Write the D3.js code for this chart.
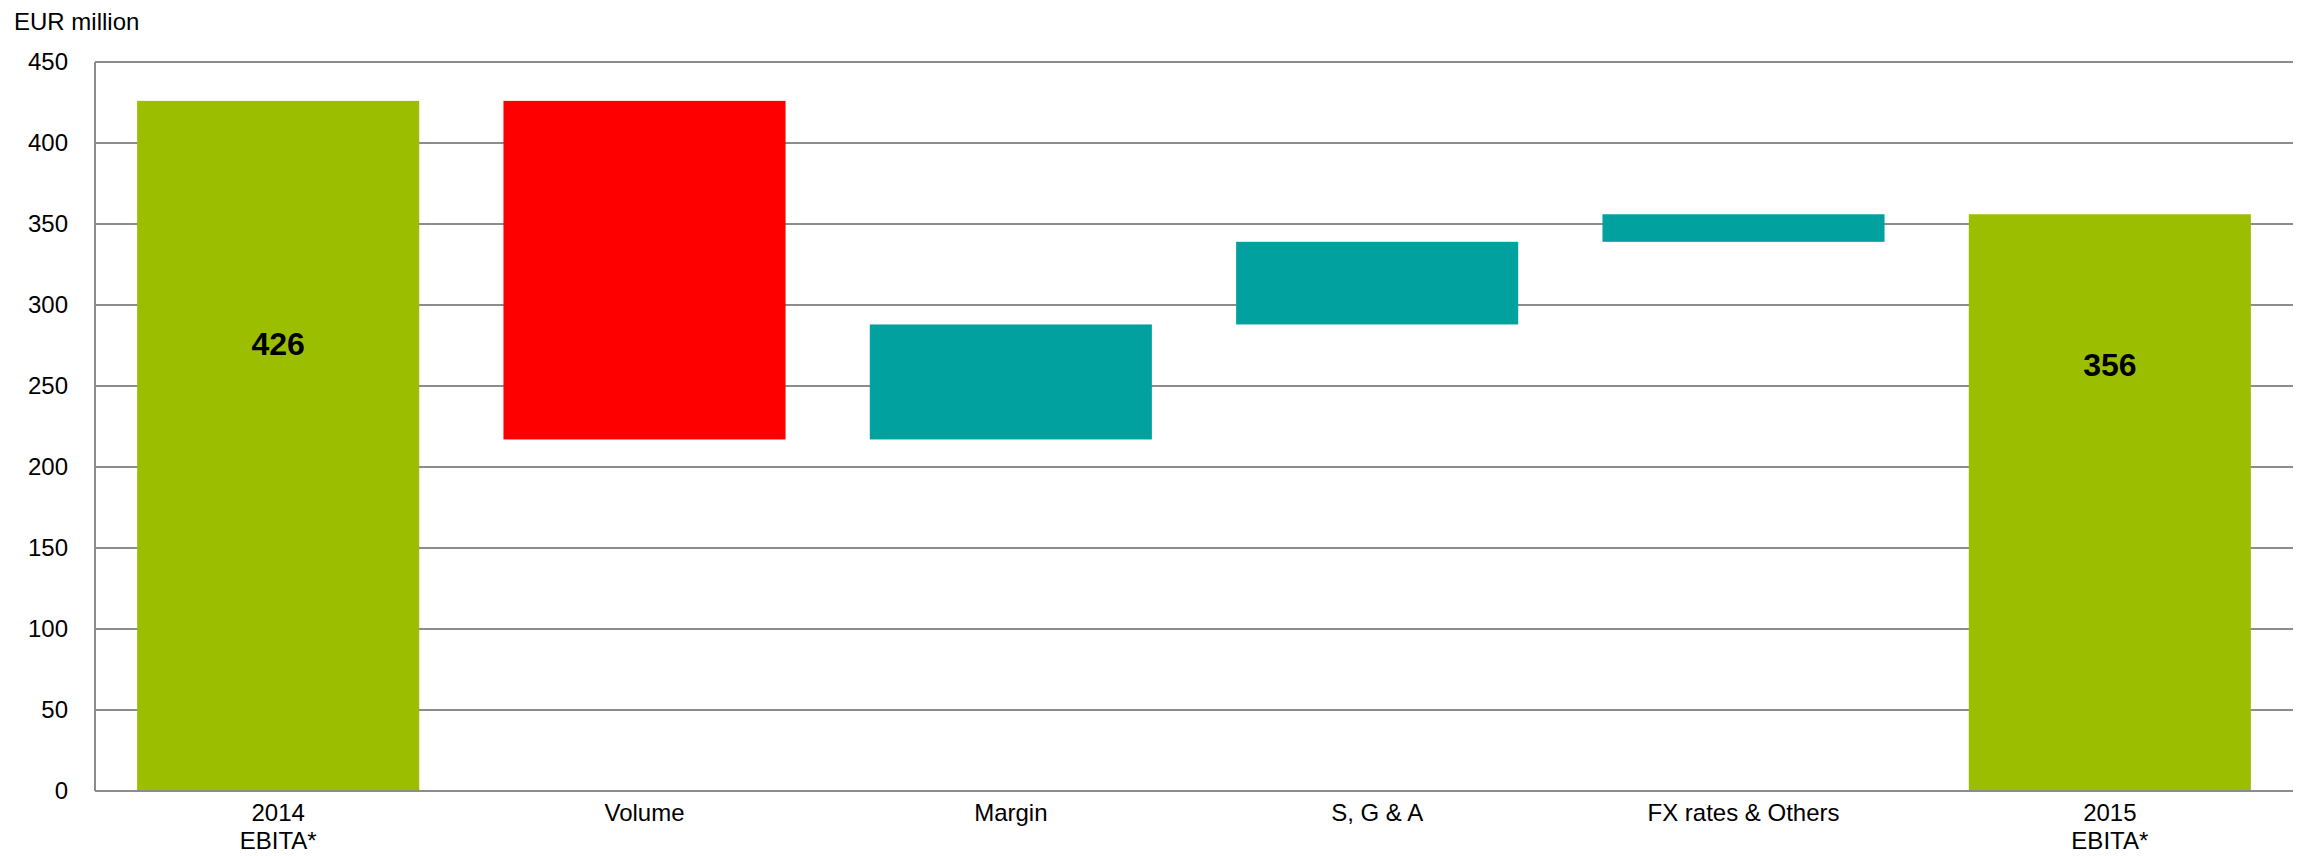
<!DOCTYPE html>
<html>
<head>
<meta charset="utf-8">
<script src="https://cdn.jsdelivr.net/npm/d3@7"></script>
<style>
  html, body { margin: 0; padding: 0; background: #fff; }
  svg { display: block; font-family: "Liberation Sans", Arial, sans-serif; }
</style>
</head>
<body>
<svg id="chart"></svg>
<script>
// Data: EBITA bridge 2014 -> 2015 (EUR million)
const categories = ['2014|EBITA*', 'Volume', 'Margin', 'S, G & A', 'FX rates & Others', '2015|EBITA*'];
const kinds = ['total', 'delta', 'delta', 'delta', 'delta', 'total'];
const values = [426, -209, 71, 51, 17, 356];
const totalLabels = ['426', null, null, null, null, '356'];
const labelAt = [276, null, null, null, null, 263]; // label anchor, in data units
const yTicks = [0, 50, 100, 150, 200, 250, 300, 350, 400, 450];

const COLOR_TOTAL = '#9bbf00';
const COLOR_NEG = '#ff0000';
const COLOR_POS = '#00a19f';
const COLOR_GRID = '#8c8c8c';

const width = 2306, height = 856;
const margin = { top: 62, right: 13, bottom: 65, left: 95 };

const svg = d3.select('#chart')
  .attr('width', width)
  .attr('height', height);

const x = d3.scaleBand()
  .domain(categories)
  .range([margin.left, width - margin.right])
  .paddingInner(0.23)
  .paddingOuter(0.115);

const y = d3.scaleLinear()
  .domain([0, 450])
  .range([height - margin.bottom, margin.top]);

// --- build waterfall segments ---
let running = 0;
const bars = categories.map((c, i) => {
  let lo, hi, fill;
  if (kinds[i] === 'total') {
    lo = 0; hi = values[i]; running = values[i]; fill = COLOR_TOTAL;
  } else {
    const next = running + values[i];
    lo = Math.min(running, next); hi = Math.max(running, next);
    fill = values[i] < 0 ? COLOR_NEG : COLOR_POS;
    running = next;
  }
  return { c, lo, hi, fill, i };
});

// gridlines
svg.append('g')
  .selectAll('line')
  .data(yTicks.filter(d => d > 0))
  .join('line')
  .attr('x1', margin.left)
  .attr('x2', width - margin.right)
  .attr('y1', d => y(d))
  .attr('y2', d => y(d))
  .attr('stroke', COLOR_GRID)
  .attr('stroke-width', 2);

// bars
svg.append('g')
  .selectAll('rect')
  .data(bars)
  .join('rect')
  .attr('x', d => x(d.c))
  .attr('width', x.bandwidth())
  .attr('y', d => y(d.hi))
  .attr('height', d => y(d.lo) - y(d.hi))
  .attr('fill', d => d.fill);

// axes lines
svg.append('line')
  .attr('x1', margin.left).attr('x2', margin.left)
  .attr('y1', y(450)).attr('y2', y(0))
  .attr('stroke', COLOR_GRID).attr('stroke-width', 2);
svg.append('line')
  .attr('x1', margin.left).attr('x2', width - margin.right)
  .attr('y1', y(0)).attr('y2', y(0))
  .attr('stroke', COLOR_GRID).attr('stroke-width', 2);

// y tick labels
svg.append('g')
  .selectAll('text')
  .data(yTicks)
  .join('text')
  .attr('x', 68)
  .attr('y', d => y(d))
  .attr('dy', '0.35em')
  .attr('text-anchor', 'end')
  .attr('font-size', 24)
  .attr('fill', '#000')
  .text(d => d);

// y unit label
svg.append('text')
  .attr('x', 14)
  .attr('y', 30)
  .attr('font-size', 24)
  .attr('fill', '#000')
  .text('EUR million');

// x category labels (can be two lines)
const xl = svg.append('g')
  .selectAll('text')
  .data(categories)
  .join('text')
  .attr('x', d => x(d) + x.bandwidth() / 2)
  .attr('y', 821)
  .attr('text-anchor', 'middle')
  .attr('font-size', 24)
  .attr('fill', '#000');
xl.each(function(d) {
  const parts = d.split('|');
  d3.select(this).selectAll('tspan')
    .data(parts)
    .join('tspan')
    .attr('x', x(d) + x.bandwidth() / 2)
    .attr('dy', (p, k) => k === 0 ? 0 : 28)
    .text(p => p);
});

// value labels on totals
svg.append('g')
  .selectAll('text')
  .data(bars.filter(d => totalLabels[d.i]))
  .join('text')
  .attr('x', d => x(d.c) + x.bandwidth() / 2)
  .attr('y', d => y(labelAt[d.i]))
  .attr('dy', '0.35em')
  .attr('text-anchor', 'middle')
  .attr('font-size', 32)
  .attr('font-weight', 'bold')
  .attr('fill', '#000')
  .text(d => totalLabels[d.i]);
</script>
</body>
</html>
